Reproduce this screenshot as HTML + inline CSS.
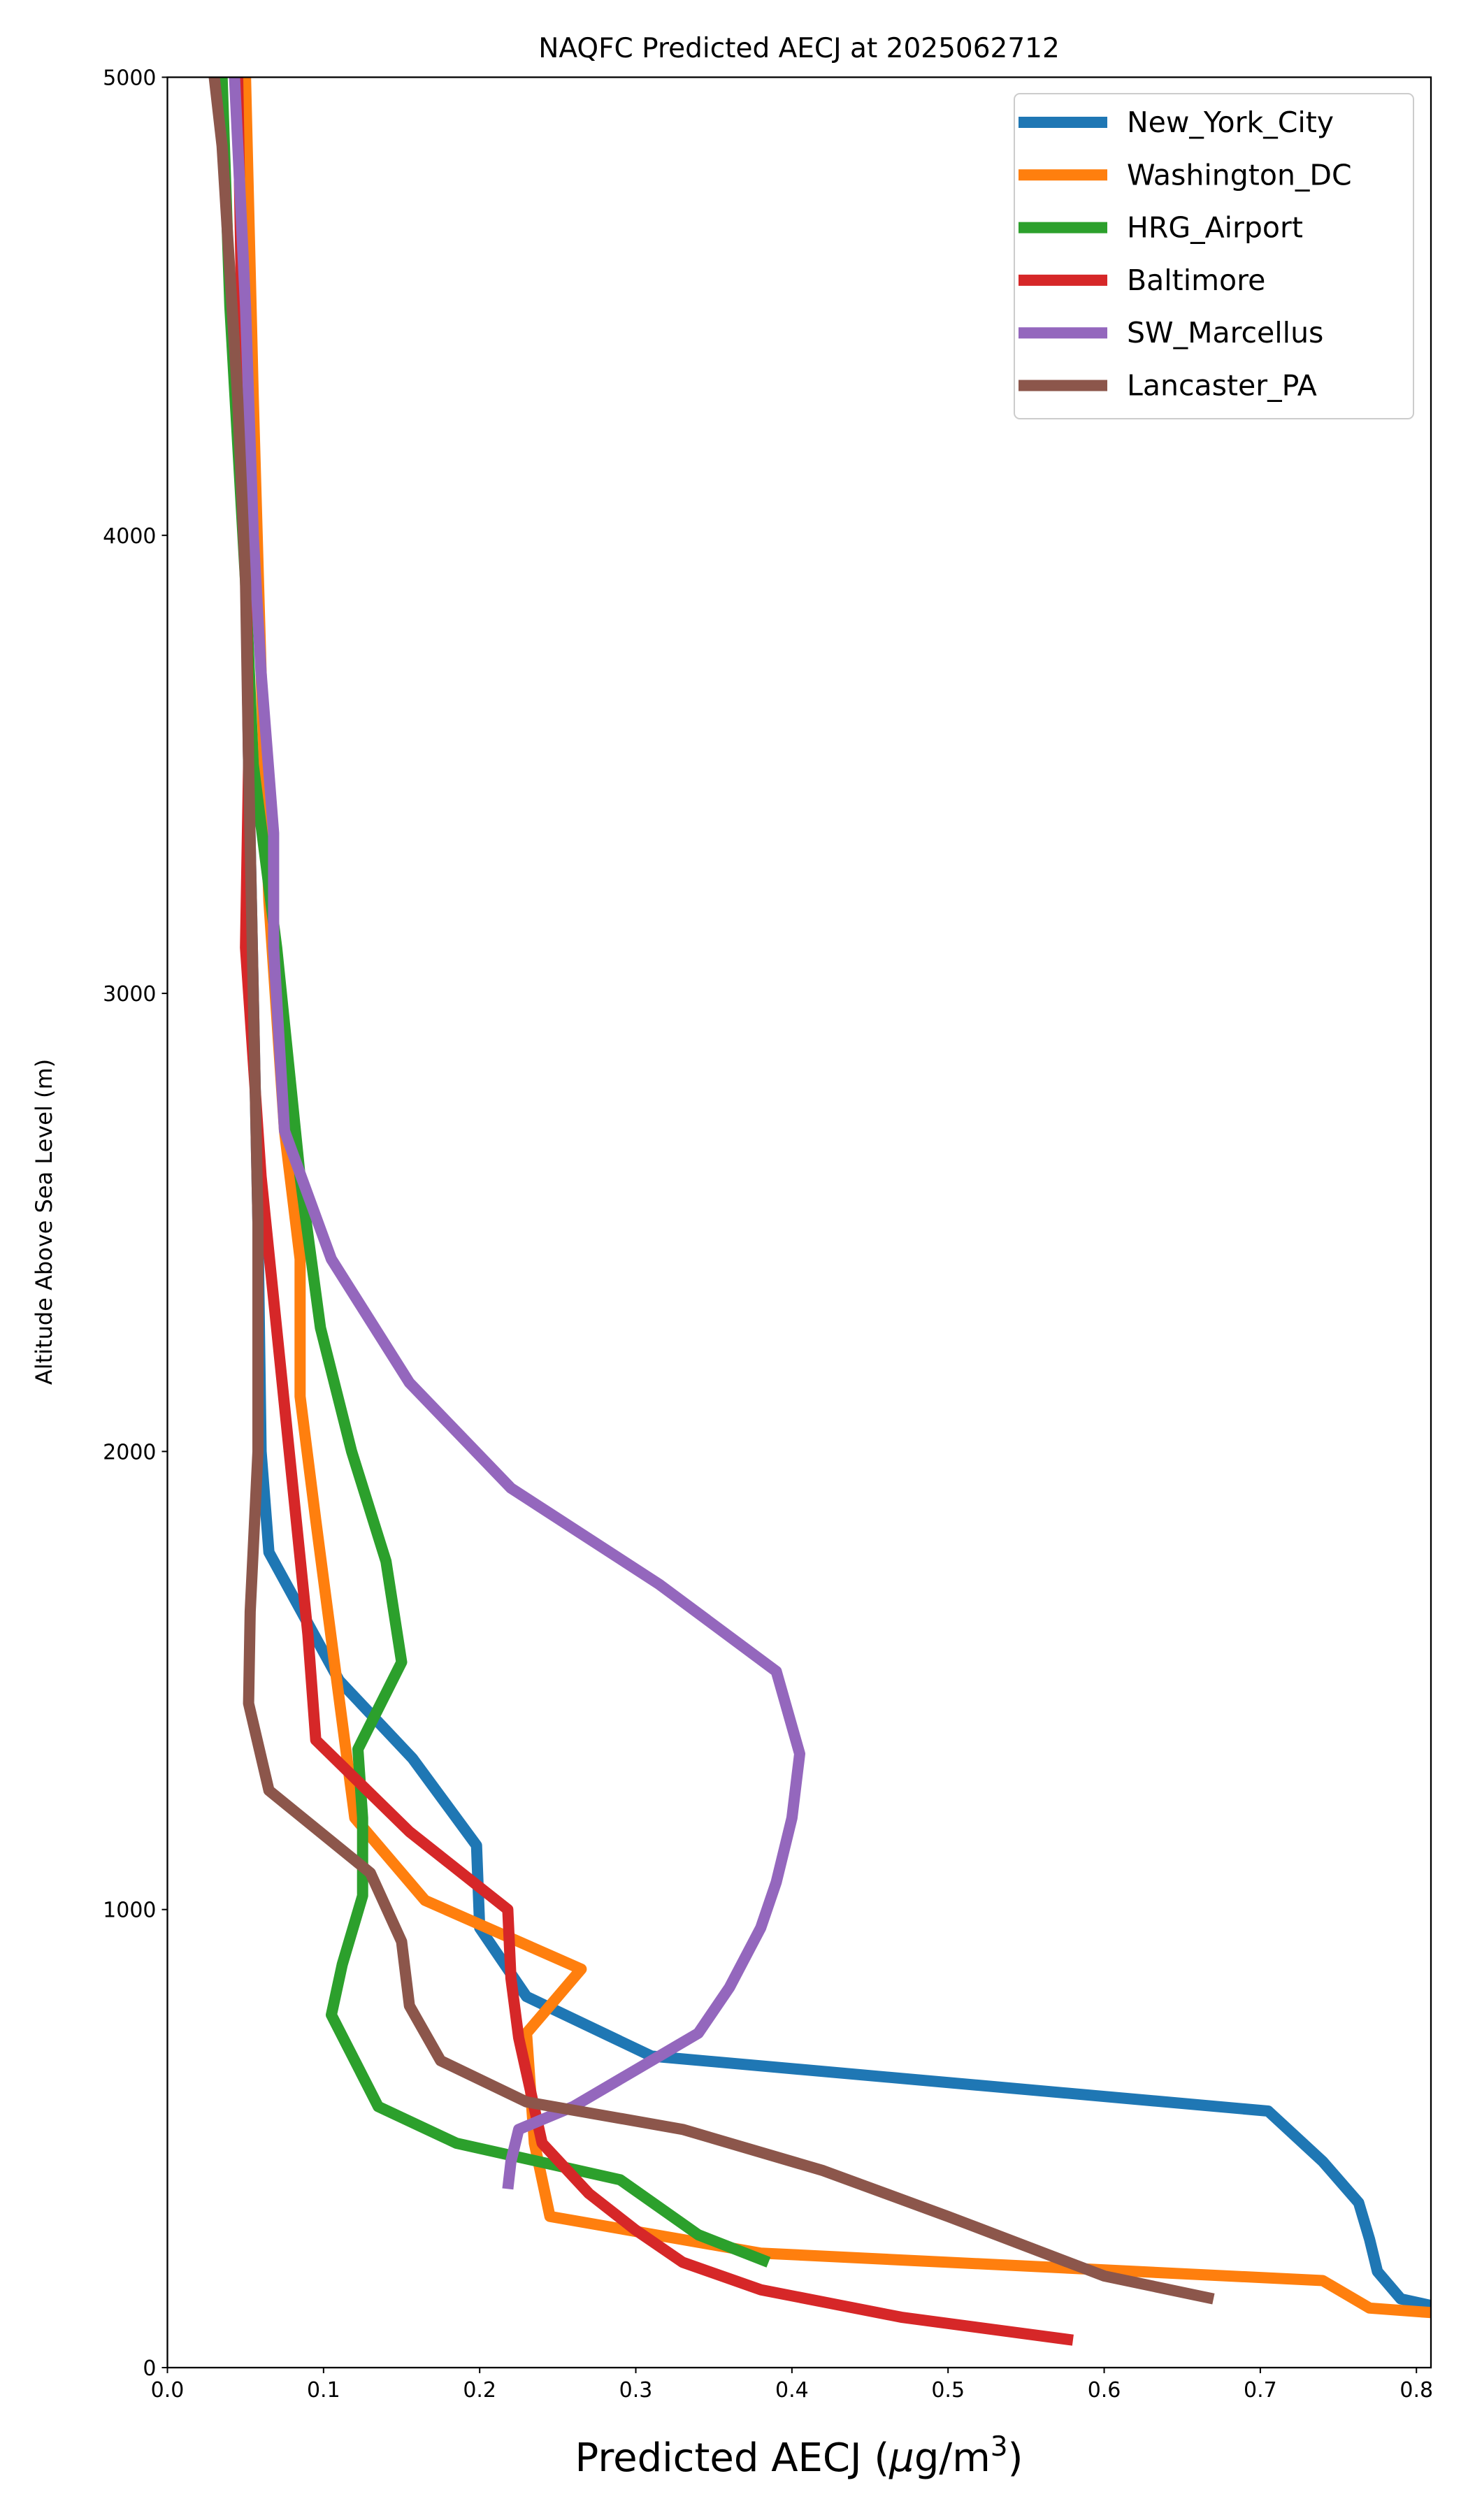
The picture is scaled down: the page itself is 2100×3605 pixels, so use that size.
<!DOCTYPE html>
<html><head><meta charset="utf-8"><style>
html,body{margin:0;padding:0;background:#fff;}
svg text{font-family:"DejaVu Sans","Liberation Sans",sans-serif;fill:#000;}
</style></head><body>
<svg id="chart" width="2100" height="3600" xmlns="http://www.w3.org/2000/svg">
<defs><clipPath id="clip"><rect x="239.5" y="110.5" width="1807.5" height="3276.5"/></clipPath></defs>
<rect x="0" y="0" width="2100" height="3600" fill="#fff"/>
<g id="ticks"></g>
<g id="lines" clip-path="url(#clip)"></g>
<rect x="239.5" y="110.5" width="1807.5" height="3276.5" fill="none" stroke="#000" stroke-width="2.3"/>
<text x="1143" y="82" font-size="39" text-anchor="middle">NAQFC Predicted AECJ at 2025062712</text>
<text x="1143" y="3535" font-size="56" text-anchor="middle">Predicted AECJ (<tspan font-style="italic">μ</tspan>g/m<tspan dy="-22" font-size="39">3</tspan><tspan dy="22">)</tspan></text>
<text transform="translate(74,1748) rotate(-90)" font-size="32" text-anchor="middle">Altitude Above Sea Level (m)</text>
<g id="legend"></g>
</svg>
<script>
const series = ["New_York_City","Washington_DC","HRG_Airport","Baltimore","SW_Marcellus","Lancaster_PA"];
const colors = ["#1f77b4","#ff7f0e","#2ca02c","#d62728","#9467bd","#8c564b"];
const nycX=[0.81,0.79,0.775,0.77,0.763,0.74,0.705,0.31,0.23,0.2,0.198,0.157,0.11,0.065,0.06,0.058,0.055,0.052,0.05,0.048,0.045];
const nycY=[135,150,210,280,360,450,560,680,810,960,1140,1330,1500,1780,2000,2500,3000,3500,4000,4500,5000];
const dcX=[0.81,0.77,0.74,0.38,0.245,0.235,0.23,0.265,0.165,0.12,0.095,0.085,0.085,0.075,0.065,0.06,0.055,0.05];
const dcY=[120,130,190,250,330,490,730,870,1020,1200,1850,2120,2420,2700,3200,3700,4300,5000];
const hrgX=[0.385,0.34,0.29,0.185,0.135,0.12,0.105,0.112,0.125,0.125,0.122,0.15,0.14,0.118,0.098,0.085,0.07,0.055,0.05,0.04,0.035];
const hrgY=[230,290,410,490,570,670,770,880,1030,1200,1350,1540,1760,2000,2270,2600,3100,3500,3900,4500,5000];
const balX=[0.58,0.47,0.38,0.33,0.3,0.27,0.24,0.225,0.22,0.218,0.155,0.095,0.09,0.075,0.06,0.05,0.052,0.05,0.045];
const balY=[60,110,170,230,300,380,490,720,850,1000,1170,1370,1600,2100,2600,3100,3500,4000,5000];
const swmX=[0.218,0.22,0.225,0.26,0.3,0.34,0.36,0.38,0.39,0.4,0.405,0.39,0.315,0.22,0.155,0.105,0.075,0.068,0.068,0.06,0.055,0.05,0.043];
const swmY=[390,450,520,570,650,730,830,960,1060,1200,1340,1520,1710,1920,2150,2420,2700,3100,3350,3700,4000,4500,5000];
const lanX=[0.67,0.6,0.5,0.42,0.33,0.23,0.175,0.155,0.15,0.13,0.065,0.052,0.053,0.058,0.058,0.055,0.052,0.05,0.045,0.035,0.03];
const lanY=[150,200,330,430,520,580,670,790,930,1080,1260,1450,1650,2000,2500,3000,3500,3900,4300,4850,5000];
const xTicks=[0,0.1,0.2,0.3,0.4,0.5,0.6,0.7,0.8];
const xTickLabels=["0.0","0.1","0.2","0.3","0.4","0.5","0.6","0.7","0.8"];
const yTicks=[0,1000,2000,3000,4000,5000];
const yTickLabels=["0","1000","2000","3000","4000","5000"];

const L=239.5,R=2047,T=110.5,B=3387,XMAX=0.8093,YMAX=5000;
const sx=v=>L+v/XMAX*(R-L);
const sy=v=>B-v/YMAX*(B-T);
const NS="http://www.w3.org/2000/svg";
function mk(tag,attrs,parent){const e=document.createElementNS(NS,tag);for(const k in attrs)e.setAttribute(k,attrs[k]);parent.appendChild(e);return e;}
const tg=document.getElementById('ticks');
xTicks.forEach((v,i)=>{
  const l=mk('line',{x1:sx(v),x2:sx(v),y1:B,y2:B+8,stroke:'#000','stroke-width':2},tg);
  
  
  const t=mk('text',{x:sx(v),y:B+42,'font-size':30,'text-anchor':'middle'},tg);
  t.textContent=xTickLabels[i];
  
  
});
yTicks.forEach((v,i)=>{
  const l=mk('line',{x1:L-8,x2:L,y1:sy(v),y2:sy(v),stroke:'#000','stroke-width':2},tg);
  
  
  const t=mk('text',{x:L-16,y:sy(v)+11,'font-size':30,'text-anchor':'end'},tg);
  t.textContent=yTickLabels[i];
  
  
});
const data=[[nycX,nycY],[dcX,dcY],[hrgX,hrgY],[balX,balY],[swmX,swmY],[lanX,lanY]];
const lg=document.getElementById('lines');
data.forEach((d,i)=>{
  const pts=d[0].map((x,j)=>sx(x).toFixed(1)+','+sy(d[1][j]).toFixed(1)).join(' ');
  const p=mk('polyline',{points:pts,fill:'none',stroke:colors[i],'stroke-width':16,'stroke-linejoin':'round'},lg);
  
  
});
const leg=document.getElementById('legend');
const box=mk('rect',{x:1451,y:134,width:571,height:465,rx:8,fill:'#fff','fill-opacity':0.8,stroke:'#ccc','stroke-width':2},leg);


series.forEach((s,i)=>{
  const y=175+i*75.3;
  const l=mk('line',{x1:1457,x2:1584,y1:y,y2:y,stroke:colors[i],'stroke-width':16},leg);
  
  
  const t=mk('text',{x:1612,y:y+14,'font-size':41},leg);
  t.textContent=s;
  
  
});
</script>
</body></html>
